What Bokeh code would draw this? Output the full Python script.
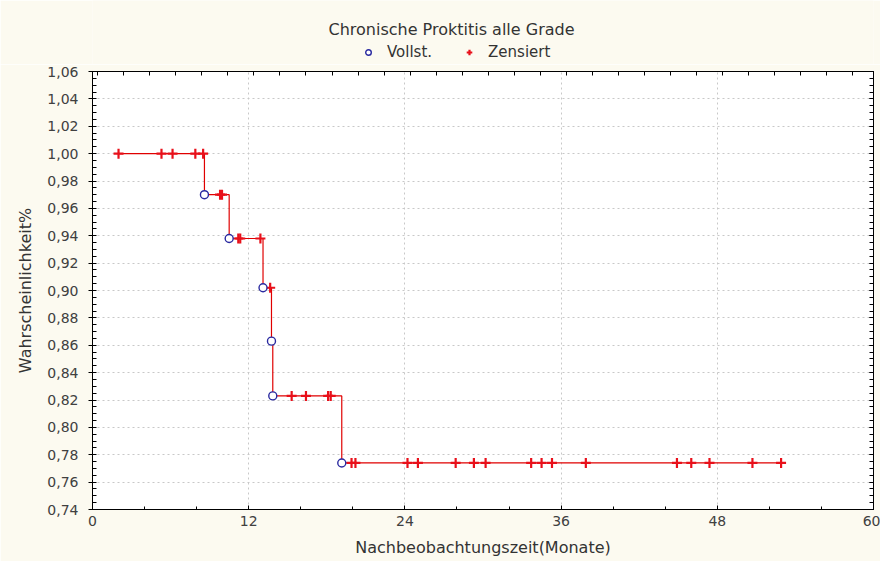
from bokeh.plotting import figure
from bokeh.layouts import column
from bokeh.models import (Range1d, LinearAxis, FixedTicker, CustomJSTickFormatter,
                          Legend, LegendItem, Label)
from bokeh.embed import file_html
from bokeh.resources import INLINE

# ---- data ----
curve_start = 2.0
event_times = [8.6, 10.5, 13.1, 13.75, 13.85, 19.15]
event_surv = [0.970, 0.938, 0.902, 0.863, 0.823, 0.774]
curve_end = 52.9

cens_100 = [2.0, 5.3, 6.15, 7.9, 8.5]
cens_097 = [9.8, 9.95]
cens_0938 = [11.2, 11.35, 12.9]
cens_0902 = [13.65]
cens_0823 = [15.3, 16.4, 18.1, 18.3]
cens_0774 = [19.9, 20.2, 24.2, 25.0, 27.9, 29.3, 30.2, 33.7, 34.5, 35.3, 37.9,
             44.9, 46.0, 47.4, 50.7, 52.9]

x_ticks = [0, 12, 24, 36, 48, 60]
x_minor = [4, 8, 16, 20, 28, 32, 40, 44, 52, 56]
y_ticks = [0.74, 0.76, 0.78, 0.80, 0.82, 0.84, 0.86, 0.88, 0.90, 0.92, 0.94,
           0.96, 0.98, 1.00, 1.02, 1.04, 1.06]
title_text = "Chronische Proktitis alle Grade"
legend_labels = ["Vollst.", "Zensiert"]
x_label = "Nachbeobachtungszeit(Monate)"
y_label = "Wahrscheinlichkeit%"

# ---- derived ----
step_x = [curve_start] + event_times + [curve_end]
step_y = [1.0] + event_surv + [event_surv[-1]]
cx, cy = [], []
for xs, yv in [(cens_100, 1.0), (cens_097, 0.970), (cens_0938, 0.938),
               (cens_0902, 0.902), (cens_0823, 0.823), (cens_0774, 0.774)]:
    cx += xs
    cy += [yv] * len(xs)
y_minor = [round(0.74 + 0.005 * i, 3) for i in range(65)]
top_ticks = [0.4 + 2 * i for i in range(30)]

FONT = "DejaVu Sans"
BG = "#FCFAF0"
TXT = "#333333"
LINE_RED = "#e00000"
CROSS_RED = "#e8101a"
CIRCLE_BLUE = "#2a2aa0"

W = 880
LEFT = 92          # frame left (both figures share it in the column)
FRAME_W = W - LEFT - 7
HEAD_H = 64
MAIN_H = 561 - HEAD_H
NAN = float("nan")

# ---- header: title + legend (frame aligned with the chart's frame) ----
head = figure(width=W, height=HEAD_H, output_backend="svg", toolbar_location=None,
              x_range=Range1d(0, FRAME_W), y_range=Range1d(HEAD_H, 0),
              min_border_left=LEFT, min_border_right=7, min_border_top=0, min_border_bottom=0,
              x_axis_type=None, y_axis_type=None)
head.grid.visible = False
head.outline_line_color = None
head.background_fill_color = BG
head.border_fill_color = BG
head.add_layout(Label(x=451 - LEFT, y=29, text=title_text, text_font=FONT,
                      text_font_size="16px", text_color=TXT,
                      text_align="center", text_baseline="middle"))
h_ev = head.scatter([NAN], [NAN], marker="circle", size=8, line_color=CIRCLE_BLUE,
                    fill_color="white", line_width=1.4)
h_cens = head.scatter([NAN], [NAN], marker="cross", size=10, line_color=CROSS_RED,
                      line_width=2.2)
legend = Legend(items=[LegendItem(label=legend_labels[0], renderers=[h_ev]),
                       LegendItem(label=legend_labels[1], renderers=[h_cens])],
                orientation="horizontal", location=(359 - LEFT, 1),
                background_fill_alpha=0, border_line_alpha=0,
                label_text_font=FONT, label_text_font_size="15px", label_text_color=TXT,
                glyph_width=14, glyph_height=14, spacing=30, padding=2, margin=0,
                label_standoff=12)
head.add_layout(legend, "center")

# ---- main chart ----
p = figure(width=W, height=MAIN_H, output_backend="svg", toolbar_location=None,
           x_range=Range1d(0, 60), y_range=Range1d(0.74, 1.06),
           min_border_left=LEFT, min_border_right=7, min_border_top=7, min_border_bottom=52)
p.background_fill_color = "white"
p.border_fill_color = BG
p.outline_line_color = "black"
p.outline_line_width = 1

p.xgrid.ticker = FixedTicker(ticks=x_ticks)
p.ygrid.ticker = FixedTicker(ticks=y_ticks)
for g in (p.xgrid[0], p.ygrid[0]):
    g.grid_line_color = "#c8c8c8"
    g.grid_line_dash = "2 3"
    g.grid_line_width = 1

fmt = CustomJSTickFormatter(code="return tick.toFixed(2).replace('.', ',');")
blank = CustomJSTickFormatter(code="return '';")

xa = p.xaxis[0]
xa.ticker = FixedTicker(ticks=x_ticks, minor_ticks=x_minor)
xa.major_tick_in = 4
xa.major_tick_out = 0
xa.minor_tick_in = 3
xa.minor_tick_out = 0
xa.axis_label = x_label
ya = p.yaxis[0]
ya.ticker = FixedTicker(ticks=y_ticks, minor_ticks=y_minor)
ya.formatter = fmt
ya.major_tick_in = 0
ya.major_tick_out = 4
ya.minor_tick_in = 4
ya.minor_tick_out = 0
ya.axis_label = y_label
for a in (xa, ya):
    a.axis_line_color = "black"
    a.major_tick_line_color = "black"
    a.minor_tick_line_color = "black"
    a.major_label_text_font = FONT
    a.major_label_text_font_size = "14px"
    a.major_label_text_color = "#404040"
    a.axis_label_text_font = FONT
    a.axis_label_text_font_size = "16px"
    a.axis_label_text_font_style = "normal"
    a.axis_label_text_color = TXT
xa.major_label_standoff = 6
xa.axis_label_standoff = 9
ya.major_label_standoff = 10
ya.axis_label_standoff = 9

ra = LinearAxis(ticker=FixedTicker(ticks=y_ticks, minor_ticks=y_minor), formatter=blank,
                major_tick_in=4, major_tick_out=0, minor_tick_in=4, minor_tick_out=0,
                major_label_standoff=0, axis_line_color="black")
p.add_layout(ra, "right")
ta = LinearAxis(ticker=FixedTicker(ticks=top_ticks), formatter=blank,
                major_tick_in=4, major_tick_out=0, minor_tick_in=0, minor_tick_out=0,
                major_label_standoff=0, axis_line_color="black")
p.add_layout(ta, "above")

p.step(step_x, step_y, mode="after", line_color=LINE_RED, line_width=1.2)
p.scatter(cx, cy, marker="cross", size=10, line_color=CROSS_RED, line_width=2.2)
p.scatter(event_times, event_surv, marker="circle", size=8,
          line_color=CIRCLE_BLUE, fill_color="white", line_width=1.4)

layout = column(head, p, spacing=0)
open("out.html", "w").write(file_html(layout, INLINE))
